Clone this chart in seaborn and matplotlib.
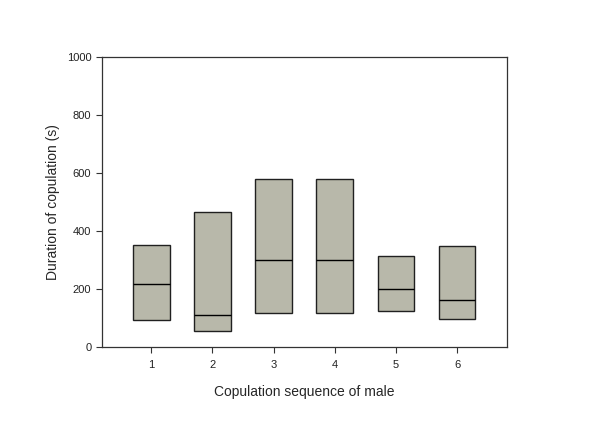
import matplotlib
matplotlib.use("Agg")
import matplotlib.pyplot as plt
import seaborn as sns
import pandas as pd

# Valores (quartis por sequência de cópula)
sequence = [1, 2, 3, 4, 5, 6]
q1 = [95, 56, 118, 118, 124, 97]
median = [217, 110, 299, 299, 202, 162]
q3 = [353, 466, 578, 578, 315, 350]

# Tabela para o seaborn: 5 valores por grupo reproduzem Q1/mediana/Q3
rows = []
for s, a, m, b in zip(sequence, q1, median, q3):
    for v in (a, a, m, b, b):
        rows.append({"seq": s, "dur": v})
df = pd.DataFrame(rows)

sns.set_style("white")
plt.rcParams['font.family'] = ['Liberation Sans', 'DejaVu Sans']

fig = plt.figure(figsize=(6, 4.24), dpi=100)
ax = fig.add_axes([0.1695, 0.181, 0.675, 0.685])

sns.boxplot(data=df, x="seq", y="dur", order=sequence, ax=ax, whis=0,
            showcaps=False, showfliers=False, width=0.6,
            color="#b8b8aa", saturation=1, linecolor="#202020", linewidth=1.0,
            medianprops={"color": "black", "linewidth": 1.0})

ax.set_xlim(-0.81, 5.81)
ax.set_ylim(0, 1000)
ax.set_yticks([0, 200, 400, 600, 800, 1000])
ax.set_xlabel("Copulation sequence of male", fontsize=10, labelpad=11)
ax.set_ylabel("Duration of copulation (s)", fontsize=10, labelpad=5)
ax.tick_params(axis="both", labelsize=8, direction="out", length=4, width=0.8,
               bottom=True, left=True, color="#333333", labelcolor="#222222")
ax.tick_params(axis="x", pad=5)
for sp in ax.spines.values():
    sp.set_color("#333333")
    sp.set_linewidth(0.9)

fig.savefig("out.png", dpi=100)
